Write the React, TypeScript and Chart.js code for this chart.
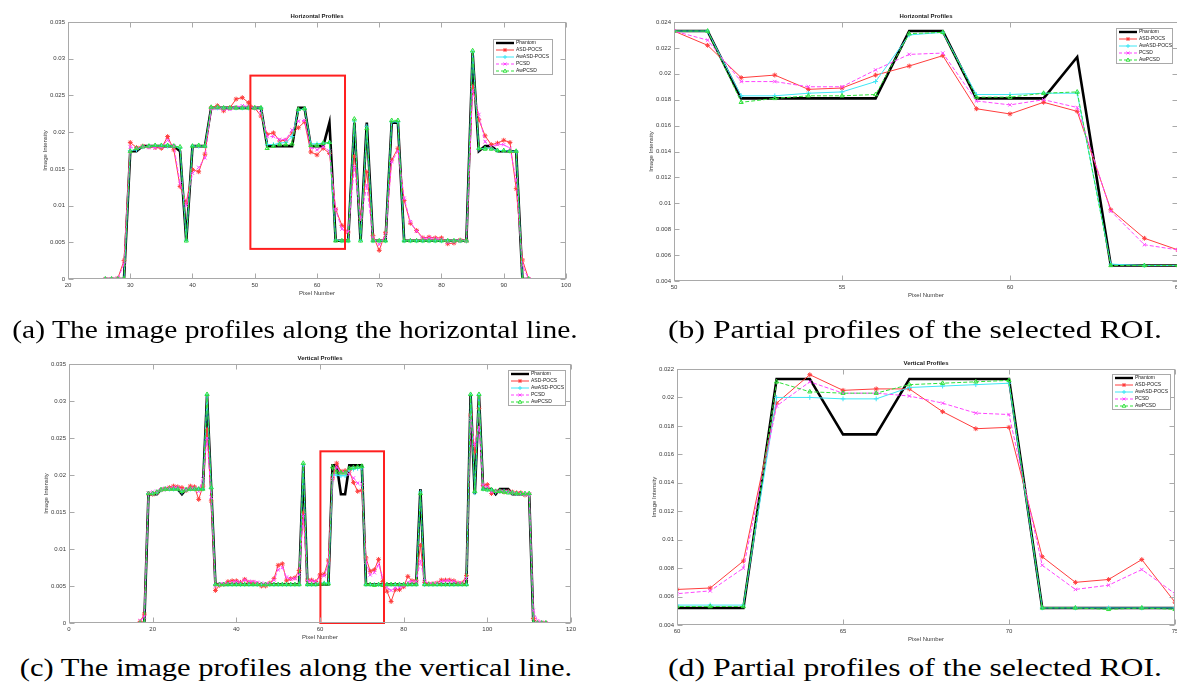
import React, { useEffect, useRef } from 'react';
import { Chart, registerables } from 'chart.js';

Chart.register(...registerables);

// ---------------- DATA ----------------
const seriesNames = ['Phantom', 'ASD-POCS', 'AwASD-POCS', 'PCSD', 'AwPCSD'];

// Horizontal profile: pixel numbers
const hPixels = [
  26, 27, 28, 29, 30, 31, 32, 33, 34, 35,
  36, 37, 38, 39, 40, 41, 42, 43, 44, 45,
  46, 47, 48, 49, 50, 51, 52, 53, 54, 55,
  56, 57, 58, 59, 60, 61, 62, 63, 64, 65,
  66, 67, 68, 69, 70, 71, 72, 73, 74, 75,
  76, 77, 78, 79, 80, 81, 82, 83, 84, 85,
  86, 87, 88, 89, 90, 91, 92, 93, 94,
];
const hPhantom = [
  0, 0, 0, 0, 0.0174, 0.0174, 0.0181, 0.0181, 0.0181, 0.0181,
  0.0181, 0.0181, 0.0174, 0.0052, 0.0181, 0.0181, 0.0181, 0.0233, 0.0233, 0.0233,
  0.0233, 0.0233, 0.0233, 0.0233, 0.0233, 0.0233, 0.0181, 0.0181, 0.0181, 0.0181,
  0.0181, 0.0233, 0.0233, 0.0181, 0.0181, 0.0181, 0.0213, 0.0052, 0.0052, 0.0052,
  0.0213, 0.0052, 0.0213, 0.0052, 0.0052, 0.0052, 0.0213, 0.0213, 0.0052, 0.0052,
  0.0052, 0.0052, 0.0052, 0.0052, 0.0052, 0.0052, 0.0052, 0.0052, 0.0052, 0.0308,
  0.0174, 0.0181, 0.0181, 0.0174, 0.0174, 0.0174, 0.0174, 0, 0,
];
const hAsdPocs = [
  0, 0, 0.0001, 0.0025, 0.0186, 0.0179, 0.0181, 0.018, 0.0179, 0.0178,
  0.0194, 0.0176, 0.0126, 0.0104, 0.0149, 0.0146, 0.017, 0.0233, 0.0236, 0.0229,
  0.0233, 0.0245, 0.0247, 0.024, 0.0233, 0.0222, 0.0197, 0.0199, 0.0188, 0.0189,
  0.0199, 0.0206, 0.0214, 0.0173, 0.0169, 0.0178, 0.0171, 0.0095, 0.0073, 0.0064,
  0.0167, 0.0083, 0.0146, 0.0059, 0.0039, 0.0063, 0.0162, 0.0178, 0.0107, 0.0076,
  0.0066, 0.0056, 0.0057, 0.0056, 0.0056, 0.0048, 0.0049, 0.0053, 0.0052, 0.0262,
  0.0217, 0.0195, 0.0183, 0.0185, 0.0189, 0.0186, 0.0123, 0.0026, 0,
];
const hAwAsdPocs = [
  0, 0, 0, 0, 0.0175, 0.0176, 0.018, 0.0181, 0.0181, 0.0181,
  0.0181, 0.0181, 0.0178, 0.0053, 0.0181, 0.0181, 0.0181, 0.0233, 0.0233, 0.0233,
  0.0233, 0.0233, 0.0233, 0.0233, 0.0233, 0.0233, 0.0183, 0.0183, 0.0185, 0.0186,
  0.0194, 0.023, 0.0232, 0.0184, 0.0184, 0.0185, 0.0185, 0.0053, 0.0052, 0.0052,
  0.0215, 0.0053, 0.0208, 0.0052, 0.0052, 0.0052, 0.0214, 0.0214, 0.0052, 0.0052,
  0.0052, 0.0052, 0.0052, 0.0052, 0.0052, 0.0052, 0.0052, 0.0052, 0.0052, 0.0309,
  0.0177, 0.0178, 0.0178, 0.0175, 0.0175, 0.0174, 0.0174, 0, 0,
];
const hPcsd = [
  0, 0, 0.0001, 0.002, 0.018, 0.0178, 0.018, 0.0179, 0.0179, 0.018,
  0.0189, 0.0181, 0.013, 0.01, 0.0144, 0.0152, 0.0165, 0.0232, 0.0233, 0.0231,
  0.0231, 0.0234, 0.0236, 0.0235, 0.0233, 0.0226, 0.0194, 0.0194, 0.019, 0.019,
  0.0203, 0.0215, 0.0216, 0.0179, 0.0176, 0.018, 0.0174, 0.0094, 0.0068, 0.0064,
  0.0153, 0.008, 0.0128, 0.0055, 0.0047, 0.0058, 0.016, 0.0174, 0.011, 0.0078,
  0.0065, 0.0055, 0.0056, 0.0055, 0.0054, 0.005, 0.0051, 0.0052, 0.0052, 0.0257,
  0.0224, 0.0187, 0.018, 0.0183, 0.0183, 0.0178, 0.0135, 0.0018, 0,
];
const hAwPcsd = [
  0, 0, 0, 0, 0.0174, 0.0178, 0.018, 0.0181, 0.0182, 0.0182,
  0.0182, 0.0181, 0.018, 0.0052, 0.0181, 0.0182, 0.0181, 0.0234, 0.0234, 0.0233,
  0.0233, 0.0233, 0.0233, 0.0233, 0.0233, 0.0233, 0.0178, 0.0181, 0.0183, 0.0183,
  0.0184, 0.0231, 0.0232, 0.0182, 0.0182, 0.0185, 0.0186, 0.0052, 0.0052, 0.0052,
  0.0218, 0.0052, 0.0205, 0.0052, 0.0052, 0.0052, 0.0216, 0.0216, 0.0052, 0.0052,
  0.0052, 0.0052, 0.0052, 0.0052, 0.0052, 0.0052, 0.0052, 0.0052, 0.0052, 0.0311,
  0.0178, 0.0177, 0.0177, 0.0175, 0.0175, 0.0174, 0.0174, 0, 0,
];

// Vertical profile: pixel numbers
const vPixels = [
  17, 18, 19, 20, 21, 22, 23, 24, 25, 26,
  27, 28, 29, 30, 31, 32, 33, 34, 35, 36,
  37, 38, 39, 40, 41, 42, 43, 44, 45, 46,
  47, 48, 49, 50, 51, 52, 53, 54, 55, 56,
  57, 58, 59, 60, 61, 62, 63, 64, 65, 66,
  67, 68, 69, 70, 71, 72, 73, 74, 75, 76,
  77, 78, 79, 80, 81, 82, 83, 84, 85, 86,
  87, 88, 89, 90, 91, 92, 93, 94, 95, 96,
  97, 98, 99, 100, 101, 102, 103, 104, 105, 106,
  107, 108, 109, 110, 111, 112, 113, 114,
];
const vPhantom = [
  0, 0, 0.0174, 0.0174, 0.0174, 0.0181, 0.0181, 0.0181, 0.0181, 0.0181,
  0.0174, 0.0181, 0.0181, 0.0181, 0.0181, 0.0181, 0.0308, 0.0181, 0.0052, 0.0052,
  0.0052, 0.0052, 0.0052, 0.0052, 0.0052, 0.0052, 0.0052, 0.0052, 0.0052, 0.0052,
  0.0052, 0.0052, 0.0052, 0.0052, 0.0052, 0.0052, 0.0052, 0.0052, 0.0052, 0.0213,
  0.0052, 0.0052, 0.0052, 0.0052, 0.0052, 0.0052, 0.0213, 0.0213, 0.0174, 0.0174,
  0.0213, 0.0213, 0.0213, 0.0213, 0.0052, 0.0052, 0.0052, 0.0052, 0.0052, 0.0052,
  0.0052, 0.0052, 0.0052, 0.0052, 0.0052, 0.0052, 0.0052, 0.0181, 0.0052, 0.0052,
  0.0052, 0.0052, 0.0052, 0.0052, 0.0052, 0.0052, 0.0052, 0.0052, 0.0052, 0.0308,
  0.0174, 0.0308, 0.0181, 0.0181, 0.0181, 0.0174, 0.0181, 0.0181, 0.0181, 0.0174,
  0.0174, 0.0174, 0.0174, 0.0174, 0, 0, 0, 0,
];
const vAsdPocs = [
  0.0002, 0.0012, 0.0175, 0.0174, 0.0176, 0.018, 0.0181, 0.0183, 0.0185, 0.0184,
  0.0183, 0.0179, 0.0185, 0.0184, 0.0167, 0.0185, 0.0262, 0.0165, 0.0044, 0.0051,
  0.0052, 0.0056, 0.0057, 0.0057, 0.0055, 0.0059, 0.0055, 0.0055, 0.0053, 0.005,
  0.005, 0.0054, 0.006, 0.0078, 0.008, 0.0057, 0.006, 0.0061, 0.0071, 0.0149,
  0.0058, 0.0058, 0.0056, 0.0065, 0.0066, 0.0085, 0.0196, 0.0216, 0.0205, 0.0206,
  0.0206, 0.019, 0.0178, 0.0179, 0.0088, 0.007, 0.0072, 0.0086, 0.0056, 0.0043,
  0.0029, 0.0045, 0.0045, 0.0049, 0.0063, 0.0057, 0.0057, 0.0105, 0.0055, 0.0053,
  0.0053, 0.0054, 0.0058, 0.0058, 0.0058, 0.0057, 0.0054, 0.0054, 0.0064, 0.0281,
  0.0231, 0.029, 0.0186, 0.0187, 0.0175, 0.0178, 0.0178, 0.0177, 0.0178, 0.0177,
  0.0176, 0.0176, 0.0173, 0.0174, 0.0006, 0.0001, 0, 0,
];
const vAwAsdPocs = [
  0, 0, 0.0175, 0.0175, 0.0176, 0.018, 0.0181, 0.0181, 0.0181, 0.0181,
  0.0177, 0.018, 0.0181, 0.0181, 0.0181, 0.0181, 0.0308, 0.0182, 0.0052, 0.0052,
  0.0052, 0.0052, 0.0052, 0.0052, 0.0052, 0.0052, 0.0052, 0.0052, 0.0052, 0.0052,
  0.0052, 0.0052, 0.0052, 0.0052, 0.0052, 0.0052, 0.0052, 0.0052, 0.0052, 0.0214,
  0.0052, 0.0052, 0.0052, 0.0054, 0.0054, 0.0054, 0.02, 0.02, 0.0199, 0.0199,
  0.0207, 0.0208, 0.0209, 0.021, 0.0052, 0.0052, 0.0052, 0.0052, 0.0052, 0.0052,
  0.0052, 0.0052, 0.0052, 0.0052, 0.0052, 0.0052, 0.0052, 0.0177, 0.0052, 0.0052,
  0.0052, 0.0052, 0.0052, 0.0052, 0.0052, 0.0052, 0.0052, 0.0052, 0.0052, 0.0308,
  0.0176, 0.0308, 0.0181, 0.018, 0.018, 0.0177, 0.0178, 0.0178, 0.0177, 0.0176,
  0.0175, 0.0175, 0.0174, 0.0174, 0, 0, 0, 0,
];
const vPcsd = [
  0.0003, 0.0008, 0.0176, 0.0177, 0.0178, 0.018, 0.0182, 0.0182, 0.0183, 0.0183,
  0.018, 0.018, 0.0182, 0.0182, 0.0178, 0.0195, 0.025, 0.017, 0.005, 0.0053,
  0.0053, 0.0054, 0.0055, 0.0056, 0.0055, 0.0058, 0.0056, 0.0056, 0.0055, 0.0054,
  0.0053, 0.0053, 0.0058, 0.0072, 0.0075, 0.0062, 0.0059, 0.006, 0.0065, 0.0145,
  0.0056, 0.0057, 0.0056, 0.0062, 0.0064, 0.008, 0.0194, 0.0211, 0.0203, 0.0203,
  0.0201, 0.0196, 0.0189, 0.0188, 0.0082, 0.0065, 0.0068, 0.0079, 0.0062, 0.0048,
  0.0044, 0.0047, 0.0048, 0.005, 0.0055, 0.0056, 0.0056, 0.0084, 0.0057, 0.0053,
  0.0053, 0.0054, 0.0056, 0.0057, 0.0057, 0.0056, 0.0054, 0.0054, 0.006, 0.0275,
  0.024, 0.0265, 0.0186, 0.0184, 0.0177, 0.0178, 0.0178, 0.0178, 0.0177, 0.0176,
  0.0175, 0.0175, 0.0174, 0.0174, 0.0017, 0.0003, 0.0001, 0,
];
const vAwPcsd = [
  0, 0, 0.0175, 0.0175, 0.0177, 0.018, 0.0181, 0.0181, 0.0181, 0.0181,
  0.0178, 0.018, 0.0181, 0.0181, 0.0181, 0.0181, 0.0309, 0.0183, 0.0052, 0.0052,
  0.0052, 0.0052, 0.0052, 0.0052, 0.0052, 0.0052, 0.0052, 0.0052, 0.0052, 0.0052,
  0.0052, 0.0052, 0.0052, 0.0052, 0.0052, 0.0052, 0.0052, 0.0052, 0.0052, 0.0216,
  0.0052, 0.0052, 0.0052, 0.0053, 0.0053, 0.0053, 0.0211, 0.0204, 0.0203, 0.0203,
  0.0209, 0.021, 0.0211, 0.0212, 0.0052, 0.0052, 0.0051, 0.0052, 0.0051, 0.0052,
  0.0052, 0.0052, 0.0052, 0.0052, 0.0052, 0.0052, 0.0052, 0.0175, 0.0052, 0.0052,
  0.0052, 0.0052, 0.0052, 0.0052, 0.0052, 0.0052, 0.0052, 0.0052, 0.0052, 0.0309,
  0.0178, 0.0309, 0.0181, 0.018, 0.018, 0.0178, 0.0178, 0.0177, 0.0176, 0.0176,
  0.0175, 0.0175, 0.0175, 0.0175, 0, 0, 0, 0,
];

// ROI boxes (data coordinates: x0, x1, y0, y1)
const roiHorizontal = [49.3, 64.5, 0.0041, 0.0277];
const roiVertical = [60.1, 75.3, 0, 0.0232];

const captions = [
  '(a) The image profiles along the horizontal line.',
  '(b) Partial profiles of the selected ROI.',
  '(c) The image profiles along the vertical line.',
  '(d) Partial profiles of the selected ROI.',
];

// ---------------- STYLE ----------------
const SANS = '"Liberation Sans", Arial, Helvetica, sans-serif';
const SERIF = '"Liberation Serif", "Times New Roman", serif';
const AXIS_COLOR = '#a9a9a9';
const TEXT_COLOR = '#3a3a3a';

type Marker = 'star' | 'cross' | 'crossRot' | 'triangle' | null;
const seriesStyles: { color: string; width: number; dash: number[]; marker: Marker }[] = [
  { color: '#000000', width: 2.6, dash: [], marker: null },
  { color: '#ff3d3d', width: 1, dash: [], marker: 'star' },
  { color: '#3fe6f5', width: 1, dash: [], marker: 'cross' },
  { color: '#ff45ff', width: 1, dash: [4, 2], marker: 'crossRot' },
  { color: '#2fe03a', width: 1, dash: [4, 2], marker: 'triangle' },
];

const PAD_L = 60;
const PAD_T = 24;
const PAD_B = 28;
const PAD_R = 8;

function drawMarker(ctx: CanvasRenderingContext2D, m: Marker, cx: number, cy: number, r: number) {
  if (!m) return;
  ctx.beginPath();
  if (m === 'star' || m === 'cross') {
    ctx.moveTo(cx - r, cy); ctx.lineTo(cx + r, cy);
    ctx.moveTo(cx, cy - r); ctx.lineTo(cx, cy + r);
  }
  if (m === 'star' || m === 'crossRot') {
    const d = r * 0.72;
    ctx.moveTo(cx - d, cy - d); ctx.lineTo(cx + d, cy + d);
    ctx.moveTo(cx - d, cy + d); ctx.lineTo(cx + d, cy - d);
  }
  if (m === 'triangle') {
    ctx.moveTo(cx, cy - r);
    ctx.lineTo(cx + r * 0.9, cy + r * 0.6);
    ctx.lineTo(cx - r * 0.9, cy + r * 0.6);
    ctx.closePath();
  }
  ctx.stroke();
}

function buildDatasets(xs: number[], series: number[][]) {
  return series.map((ys, i) => {
    const s = seriesStyles[i];
    return {
      label: seriesNames[i],
      data: xs.map((x, j) => ({ x, y: ys[j] })),
      borderColor: s.color,
      backgroundColor: s.color,
      borderWidth: s.width,
      borderDash: s.dash,
      pointStyle: s.marker || 'circle',
      pointRadius: s.marker ? 2.4 : 0,
      pointBorderColor: s.color,
      pointBackgroundColor: s.marker === 'triangle' ? 'rgba(0,0,0,0)' : s.color,
      pointBorderWidth: 1,
      tension: 0,
      fill: false,
      order: 4 - i,
    };
  });
}

type PanelCfg = {
  title: string;
  plot: { l: number; t: number; r: number; b: number };
  x: [number, number, number];
  y: [number, number, number];
  xs: number[];
  series: number[][];
  legend: { x: number; y: number; w: number; h: number };
  roi: number[] | null;
};

const fmt = (v: number | string) => String(Number(Number(v).toFixed(6)));

function Panel({ cfg }: { cfg: PanelCfg }) {
  const ref = useRef<HTMLCanvasElement>(null);
  const left = cfg.plot.l - PAD_L;
  const top = cfg.plot.t - PAD_T;
  const W = cfg.plot.r - cfg.plot.l + PAD_L + PAD_R;
  const H = cfg.plot.b - cfg.plot.t + PAD_T + PAD_B;

  useEffect(() => {
    const canvas = ref.current;
    if (!canvas) return;
    const decor = {
      id: 'decor',
      afterDraw(chart: any) {
        const ctx: CanvasRenderingContext2D = chart.ctx;
        const a = chart.chartArea;
        const xs = chart.scales.x;
        const ys = chart.scales.y;
        ctx.save();
        // ROI rectangle
        if (cfg.roi) {
          const x0 = xs.getPixelForValue(cfg.roi[0]);
          const x1 = xs.getPixelForValue(cfg.roi[1]);
          const y0 = ys.getPixelForValue(cfg.roi[2]);
          const y1 = ys.getPixelForValue(cfg.roi[3]);
          ctx.strokeStyle = '#ff1f1f';
          ctx.lineWidth = 2;
          ctx.setLineDash([]);
          ctx.strokeRect(x0, y1, x1 - x0, y0 - y1);
        }
        // axes box
        ctx.strokeStyle = AXIS_COLOR;
        ctx.lineWidth = 1;
        ctx.setLineDash([]);
        const L = Math.round(a.left) + 0.5;
        const T = Math.round(a.top) + 0.5;
        const R = Math.round(a.right) - 0.5;
        const B = Math.round(a.bottom) - 0.5;
        ctx.strokeRect(L, T, R - L, B - T);
        // inward ticks on all four sides
        const tl = 5;
        ctx.beginPath();
        xs.ticks.forEach((t: any) => {
          const px = Math.round(xs.getPixelForValue(t.value)) + 0.5;
          ctx.moveTo(px, B); ctx.lineTo(px, B - tl);
          ctx.moveTo(px, T); ctx.lineTo(px, T + tl);
        });
        ys.ticks.forEach((t: any) => {
          const py = Math.round(ys.getPixelForValue(t.value)) + 0.5;
          ctx.moveTo(L, py); ctx.lineTo(L + tl, py);
          ctx.moveTo(R, py); ctx.lineTo(R - tl, py);
        });
        ctx.stroke();
        // title
        ctx.fillStyle = '#1a1a1a';
        ctx.font = `bold 6px ${SANS}`;
        ctx.textAlign = 'center';
        ctx.textBaseline = 'middle';
        ctx.fillText(cfg.title, (a.left + a.right) / 2, a.top - 5.5);
        // axis titles
        ctx.fillStyle = TEXT_COLOR;
        ctx.font = `6px ${SANS}`;
        ctx.fillText('Pixel Number', (a.left + a.right) / 2, a.bottom + 14);
        ctx.save();
        ctx.translate(a.left - 22.5, (a.top + a.bottom) / 2);
        ctx.rotate(-Math.PI / 2);
        ctx.fillText('Image Intensity', 0, 0);
        ctx.restore();
        // legend
        const lg = cfg.legend;
        const lx = lg.x - left;
        const ly = lg.y - top;
        ctx.fillStyle = '#ffffff';
        ctx.fillRect(lx, ly, lg.w, lg.h);
        ctx.strokeStyle = AXIS_COLOR;
        ctx.lineWidth = 1;
        ctx.strokeRect(lx + 0.5, ly + 0.5, lg.w, lg.h);
        const rowH = lg.h / seriesNames.length;
        seriesNames.forEach((name, i) => {
          const s = seriesStyles[i];
          const cy = ly + rowH * (i + 0.5) + 0.5;
          ctx.strokeStyle = s.color;
          ctx.lineWidth = i === 0 ? 2.4 : 1;
          ctx.setLineDash(s.dash.length ? [3, 2] : []);
          ctx.beginPath();
          ctx.moveTo(lx + 3, cy);
          ctx.lineTo(lx + 21, cy);
          ctx.stroke();
          ctx.setLineDash([]);
          ctx.lineWidth = 1;
          drawMarker(ctx, s.marker, lx + 12, cy, 2);
          ctx.fillStyle = '#222222';
          ctx.font = `5px ${SANS}`;
          ctx.textAlign = 'left';
          ctx.textBaseline = 'middle';
          ctx.fillText(name, lx + 23, cy);
        });
        ctx.restore();
      },
    };

    const tickFont = { size: 6, family: SANS };
    const chart = new Chart(canvas, {
      type: 'line',
      data: { datasets: buildDatasets(cfg.xs, cfg.series) as any },
      options: {
        responsive: false,
        animation: false,
        devicePixelRatio: 1,
        layout: { padding: { left: 0, top: PAD_T, right: PAD_R, bottom: 0 } },
        plugins: {
          legend: { display: false },
          title: { display: false },
          tooltip: { enabled: false },
        },
        scales: {
          x: {
            type: 'linear',
            min: cfg.x[0],
            max: cfg.x[1],
            grid: { display: false, drawTicks: false },
            border: { display: false },
            ticks: {
              stepSize: cfg.x[2],
              autoSkip: false,
              maxRotation: 0,
              padding: 3,
              color: TEXT_COLOR,
              font: tickFont,
              callback: (v: any) => fmt(v),
            },
            afterFit: (s: any) => { s.height = PAD_B; },
          },
          y: {
            type: 'linear',
            min: cfg.y[0],
            max: cfg.y[1],
            grid: { display: false, drawTicks: false },
            border: { display: false },
            ticks: {
              stepSize: cfg.y[2],
              autoSkip: false,
              padding: 3,
              color: TEXT_COLOR,
              font: tickFont,
              callback: (v: any) => fmt(v),
            },
            afterFit: (s: any) => { s.width = PAD_L; },
          },
        },
      } as any,
      plugins: [decor],
    });
    return () => chart.destroy();
  }, []);

  return (
    <canvas
      ref={ref}
      width={W}
      height={H}
      style={{ position: 'absolute', left, top, width: W, height: H }}
    />
  );
}

let measureCtx: CanvasRenderingContext2D | null = null;
function measure(text: string, font: string) {
  if (!measureCtx) measureCtx = document.createElement('canvas').getContext('2d');
  if (!measureCtx) return 1;
  measureCtx.font = font;
  return measureCtx.measureText(text).width || 1;
}

function Caption({ text, cx, cy, w }: { text: string; cx: number; cy: number; w: number }) {
  const font = `26px ${SERIF}`;
  const k = w / measure(text, font);
  return (
    <div
      style={{
        position: 'absolute',
        left: cx,
        top: cy,
        transform: `translate(-50%, -50%) scaleX(${k.toFixed(4)})`,
        whiteSpace: 'nowrap',
        font,
        lineHeight: 1,
        color: '#000',
      }}
    >
      {text}
    </div>
  );
}

const panels: PanelCfg[] = [
  {
    title: 'Horizontal Profiles',
    plot: { l: 68, t: 22, r: 566, b: 279 },
    x: [20, 100, 10],
    y: [0, 0.035, 0.005],
    xs: hPixels,
    series: [hPhantom, hAsdPocs, hAwAsdPocs, hPcsd, hAwPcsd],
    legend: { x: 493, y: 39, w: 59, h: 35 },
    roi: roiHorizontal,
  },
  {
    title: 'Horizontal Profiles',
    plot: { l: 674, t: 22, r: 1178, b: 281 },
    x: [50, 65, 5],
    y: [0.004, 0.024, 0.002],
    xs: hPixels,
    series: [hPhantom, hAsdPocs, hAwAsdPocs, hPcsd, hAwPcsd],
    legend: { x: 1116, y: 28, w: 56, h: 35 },
    roi: null,
  },
  {
    title: 'Vertical Profiles',
    plot: { l: 69, t: 364, r: 571, b: 623 },
    x: [0, 120, 20],
    y: [0, 0.035, 0.005],
    xs: vPixels,
    series: [vPhantom, vAsdPocs, vAwAsdPocs, vPcsd, vAwPcsd],
    legend: { x: 508, y: 370, w: 57, h: 35 },
    roi: roiVertical,
  },
  {
    title: 'Vertical Profiles',
    plot: { l: 677, t: 369, r: 1175, b: 625 },
    x: [60, 75, 5],
    y: [0.004, 0.022, 0.002],
    xs: vPixels,
    series: [vPhantom, vAsdPocs, vAwAsdPocs, vPcsd, vAwPcsd],
    legend: { x: 1112, y: 374, w: 58, h: 35 },
    roi: null,
  },
];

const captionPos = [
  { cx: 295, cy: 330, w: 566 },
  { cx: 915, cy: 330, w: 494 },
  { cx: 295.5, cy: 668, w: 553 },
  { cx: 915, cy: 668, w: 494 },
];

export default function App() {
  return (
    <div
      style={{
        position: 'absolute',
        left: 0,
        top: 0,
        width: 1177,
        height: 690,
        overflow: 'hidden',
        background: '#ffffff',
      }}
    >
      {panels.map((p, i) => (
        <Panel key={i} cfg={p} />
      ))}
      {captions.map((c, i) => (
        <Caption key={i} text={c} {...captionPos[i]} />
      ))}
    </div>
  );
}
